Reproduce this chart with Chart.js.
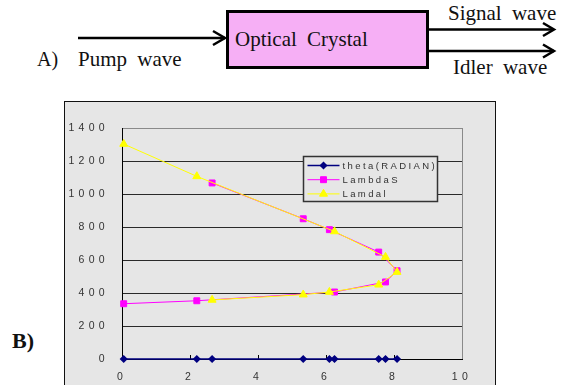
<!DOCTYPE html>
<html>
<head>
<meta charset="utf-8">
<script src="https://cdn.jsdelivr.net/npm/chart.js@4.4.0/dist/chart.umd.min.js"></script>
<style>
  html, body { margin: 0; padding: 0; background: #fff; overflow: hidden; }
  body { width: 563px; height: 385px; position: relative; }
  #diagram { position: absolute; left: 0; top: 0; }
  #diagram text { font-family: "Liberation Serif", "Times New Roman", serif; fill: #111; font-size: 21px; word-spacing: 5px; }
  #frame {
    position: absolute; left: 64px; top: 101px;
    width: 430px; height: 290px;
    border: 1px solid #111; border-bottom: none;
    background: #e6e6e6;
  }
  #frame canvas { display: block; }
</style>
</head>
<body>

<svg id="diagram" width="563" height="385" xmlns="http://www.w3.org/2000/svg">
  <!-- pump arrow -->
  <line x1="78" y1="38" x2="225" y2="38" stroke="#000" stroke-width="2.5"/>
  <polyline points="213,31 225,38 213,45" fill="none" stroke="#000" stroke-width="2.5"/>
  <!-- crystal -->
  <rect x="227.5" y="11.5" width="200" height="56" fill="#f6aff5" stroke="#000" stroke-width="3"/>
  <!-- output arrows -->
  <line x1="429" y1="29.5" x2="554" y2="29.5" stroke="#000" stroke-width="2.5"/>
  <polyline points="543,23 554,29.5 543,36" fill="none" stroke="#000" stroke-width="2.5"/>
  <line x1="429" y1="51" x2="554" y2="51" stroke="#000" stroke-width="2.5"/>
  <polyline points="543,44.5 554,51 543,57.5" fill="none" stroke="#000" stroke-width="2.5"/>

  <text x="37" y="66" style="font-size:20px">A)</text>
  <text x="78" y="66">Pump wave</text>
  <text x="235" y="46">Optical Crystal</text>
  <text x="448" y="20">Signal wave</text>
  <text x="453" y="74">Idler wave</text>
  <text x="12" y="348" style="font-size:22px;font-weight:bold;word-spacing:0">B)</text>
</svg>

<div id="frame"><canvas id="chart" width="430" height="290"></canvas></div>

<script>
// ---- data ----
const theta = [0.05, 2.2, 6.25, 7.75, 8.09, 7.55, 6.1, 5.33, 2.65];
const thetaLevel = [0, 0, 0, 0, 0, 0, 0, 0, 0];
const lambdaS = [335, 353, 406, 467, 535, 648, 784, 850, 1067];
const lambdaI = [1303, 1107, 773, 618, 527, 450, 406, 390, 358];
const seriesNames = ['theta(RADIAN)', 'LambdaS', 'Lamdal'];
const xTicks = [0, 2, 4, 6, 8, 10];
const yTicks = [0, 200, 400, 600, 800, 1000, 1200, 1400];

const BG = '#e6e6e6';
const TXT = '#333';

function pts(ys) {
    return theta.map((x, i) => ({ x: x, y: ys[i] }));
}

// excel-ish wide letter spacing for the tick labels
const spacing = {
    id: 'spacing',
    beforeDraw(chart) {
        chart.ctx.letterSpacing = '4.3px';
    }
};

// grey frame on the right + small inward ticks on the x axis
const plotFrame = {
    id: 'plotFrame',
    beforeDatasetsDraw(chart) {
        const { ctx, chartArea: a, scales } = chart;
        ctx.save();
        ctx.strokeStyle = '#8a8a8a';
        ctx.lineWidth = 1;
        ctx.beginPath();
        ctx.moveTo(Math.round(a.right) + 0.5, a.top);
        ctx.lineTo(Math.round(a.right) + 0.5, a.bottom);
        ctx.stroke();
        ctx.strokeStyle = '#000';
        xTicks.slice(1, -1).forEach(v => {
            const px = Math.round(scales.x.getPixelForValue(v)) + 0.5;
            ctx.beginPath();
            ctx.moveTo(px, a.bottom);
            ctx.lineTo(px, a.bottom - 4);
            ctx.stroke();
        });
        ctx.restore();
    }
};

// boxed legend sitting inside the plot
const boxLegend = {
    id: 'boxLegend',
    afterDraw(chart) {
        const { ctx, chartArea: a } = chart;
        const x = Math.round(a.left + 181) + 0.5;
        const y = Math.round(a.top + 28) + 0.5;
        const w = 134, h = 45;
        ctx.save();
        ctx.fillStyle = BG;
        ctx.fillRect(x, y, w, h);
        ctx.strokeStyle = '#333';
        ctx.lineWidth = 1.5;
        ctx.strokeRect(x, y, w, h);
        ctx.letterSpacing = '2.4px';
        ctx.font = '9.5px "Liberation Sans", Arial, sans-serif';
        ctx.textBaseline = 'middle';
        chart.data.datasets.forEach((ds, i) => {
            const cy = y + 9 + i * 14.2;
            ctx.strokeStyle = ds.borderColor;
            ctx.lineWidth = ds.borderWidth;
            ctx.beginPath();
            ctx.moveTo(x + 4, cy);
            ctx.lineTo(x + 36, cy);
            ctx.stroke();
            ctx.fillStyle = ds.pointBackgroundColor;
            ctx.strokeStyle = ds.pointBorderColor;
            Chart.helpers.drawPoint(ctx, {
                pointStyle: ds.pointStyle, radius: ds.pointRadius, rotation: 0, borderWidth: 1
            }, x + 20, cy);
            ctx.fillStyle = TXT;
            ctx.fillText(ds.label, x + 39, cy + 0.5);
        });
        ctx.restore();
    }
};

const tickFont = { family: '"Liberation Sans", Arial, sans-serif', size: 10.5 };

new Chart(document.getElementById('chart'), {
    type: 'scatter',
    data: {
        datasets: [{
            label: seriesNames[0],
            data: pts(thetaLevel),
            showLine: true,
            borderColor: '#000080',
            borderWidth: 1.5,
            pointStyle: 'rectRot',
            pointRadius: 3,
            pointBackgroundColor: '#000080',
            pointBorderColor: '#000080',
            clip: false,
            order: 2
        }, {
            label: seriesNames[1],
            data: pts(lambdaS),
            showLine: true,
            borderColor: '#ff00ff',
            borderWidth: 1,
            pointStyle: 'rect',
            pointRadius: 4.2,
            pointBackgroundColor: '#ff00ff',
            pointBorderColor: '#ff00ff',
            clip: false,
            order: 1
        }, {
            label: seriesNames[2],
            data: pts(lambdaI),
            showLine: true,
            borderColor: '#ffff00',
            borderWidth: 1,
            pointStyle: 'triangle',
            pointRadius: 4.6,
            pointBackgroundColor: '#ffff00',
            pointBorderColor: '#ffff00',
            clip: false,
            order: 0
        }]
    },
    options: {
        responsive: false,
        animation: false,
        events: [],
        layout: { padding: { top: 26, right: 33, left: 0, bottom: 0 } },
        plugins: {
            legend: { display: false },
            tooltip: { enabled: false }
        },
        scales: {
            x: {
                type: 'linear',
                min: xTicks[0],
                max: xTicks[xTicks.length - 1],
                afterBuildTicks: s => { s.ticks = xTicks.map(v => ({ value: v })); },
                ticks: { color: TXT, font: tickFont, padding: 12, maxRotation: 0, callback: v => String(v) },
                grid: { display: false, drawTicks: false },
                border: { display: true, color: '#000', width: 1 },
                afterFit: s => { s.height = 33; }
            },
            y: {
                min: yTicks[0],
                max: yTicks[yTicks.length - 1],
                afterBuildTicks: s => { s.ticks = yTicks.map(v => ({ value: v })); },
                ticks: { color: TXT, font: tickFont, padding: 13, callback: v => String(v) },
                grid: {
                    drawTicks: false,
                    color: c => (c.tick && c.tick.value === 1400) ? '#8a8a8a' : '#2a2a2a'
                },
                border: { display: true, color: '#000', width: 1 },
                afterFit: s => { s.width = 57; }
            }
        }
    },
    plugins: [spacing, plotFrame, boxLegend]
});
</script>
</body>
</html>
